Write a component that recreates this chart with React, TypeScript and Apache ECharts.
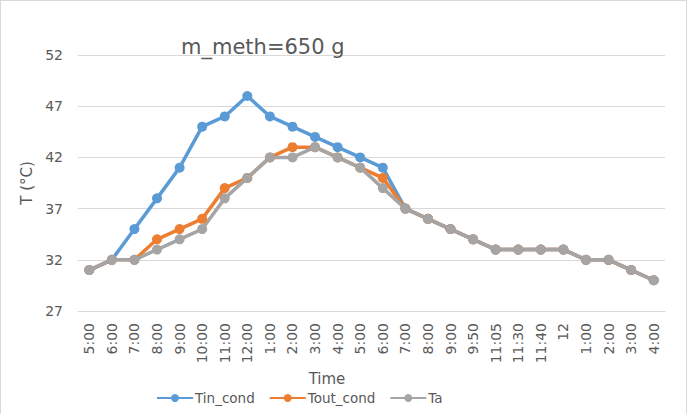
import React, { useEffect, useRef } from "react";
import * as echarts from "echarts";

const times = [
  "5:00", "6:00", "7:00", "8:00", "9:00", "10:00", "11:00", "12:00", "1:00", "2:00",
  "3:00", "4:00", "5:00", "6:00", "7:00", "8:00", "9:00", "9:50", "11:05", "11:30",
  "11:40", "12", "1:00", "2:00", "3:00", "4:00",
];
const tinCond = [31, 32, 35, 38, 41, 45, 46, 48, 46, 45, 44, 43, 42, 41, 37, 36, 35, 34, 33, 33, 33, 33, 32, 32, 31, 30];
const toutCond = [31, 32, 32, 34, 35, 36, 39, 40, 42, 43, 43, 42, 41, 40, 37, 36, 35, 34, 33, 33, 33, 33, 32, 32, 31, 30];
const ta = [31, 32, 32, 33, 34, 35, 38, 40, 42, 42, 43, 42, 41, 39, 37, 36, 35, 34, 33, 33, 33, 33, 32, 32, 31, 30];

const FONT = "'DejaVu Sans', sans-serif";
const TXT = "#595959";

export default function App() {
  const ref = useRef<HTMLDivElement>(null);
  useEffect(() => {
    const chart = echarts.init(ref.current!, null, { renderer: "svg" });
    const mk = (name: string, data: number[], color: string) => ({
      name,
      type: "line",
      data,
      symbol: "circle",
      symbolSize: 10,
      lineStyle: { width: 3.5, color },
      itemStyle: { color },
    });
    chart.setOption({
      animation: false,
      backgroundColor: "#ffffff",
      textStyle: { fontFamily: FONT },
      title: {
        text: "m_meth=650 g",
        left: 175,
        top: 30,
        textStyle: { fontFamily: FONT, fontSize: 21, fontWeight: "normal", color: TXT },
      },
      legend: {
        top: 385,
        left: 150,
        itemWidth: 36,
        itemHeight: 10,
        itemGap: 14,
        textStyle: { fontFamily: FONT, fontSize: 13.5, color: TXT, padding: [0, 0, 0, -3] },
        data: ["Tin_cond", "Tout_cond", "Ta"],
      },
      grid: { left: 77, right: 21, top: 54, bottom: 103 },
      xAxis: {
        type: "category",
        data: times,
        boundaryGap: true,
        name: "Time",
        nameLocation: "middle",
        nameGap: 55,
        nameTextStyle: { fontFamily: FONT, fontSize: 15, color: TXT, padding: [0, 89, 0, 0] },
        axisLine: { show: true, lineStyle: { color: "#d9d9d9", width: 1 } },
        axisTick: { show: false },
        axisLabel: { rotate: 90, interval: 0, fontFamily: FONT, fontSize: 14, color: TXT, margin: 12 },
      },
      yAxis: {
        type: "value",
        min: 27,
        max: 52,
        interval: 5,
        name: "T (°C)",
        nameLocation: "middle",
        nameGap: 44,
        nameRotate: 90,
        nameTextStyle: { fontFamily: FONT, fontSize: 15, color: TXT },
        axisLine: { show: false },
        axisTick: { show: false },
        axisLabel: { fontFamily: FONT, fontSize: 14, color: TXT, margin: 15 },
        splitLine: { lineStyle: { color: "#d9d9d9", width: 1 } },
      },
      series: [
        mk("Tin_cond", tinCond, "#5B9BD5"),
        mk("Tout_cond", toutCond, "#ED7D31"),
        mk("Ta", ta, "#A5A5A5"),
      ],
    });
    return () => chart.dispose();
  }, []);
  return (
    <div
      style={{
        position: "fixed",
        left: 0,
        top: 0,
        width: 687,
        height: 414,
        boxSizing: "border-box",
        border: "1px solid #d9d9d9",
        borderBottom: "none",
        background: "#fff",
      }}
    >
      <div ref={ref} style={{ width: 685, height: 413 }} />
    </div>
  );
}
